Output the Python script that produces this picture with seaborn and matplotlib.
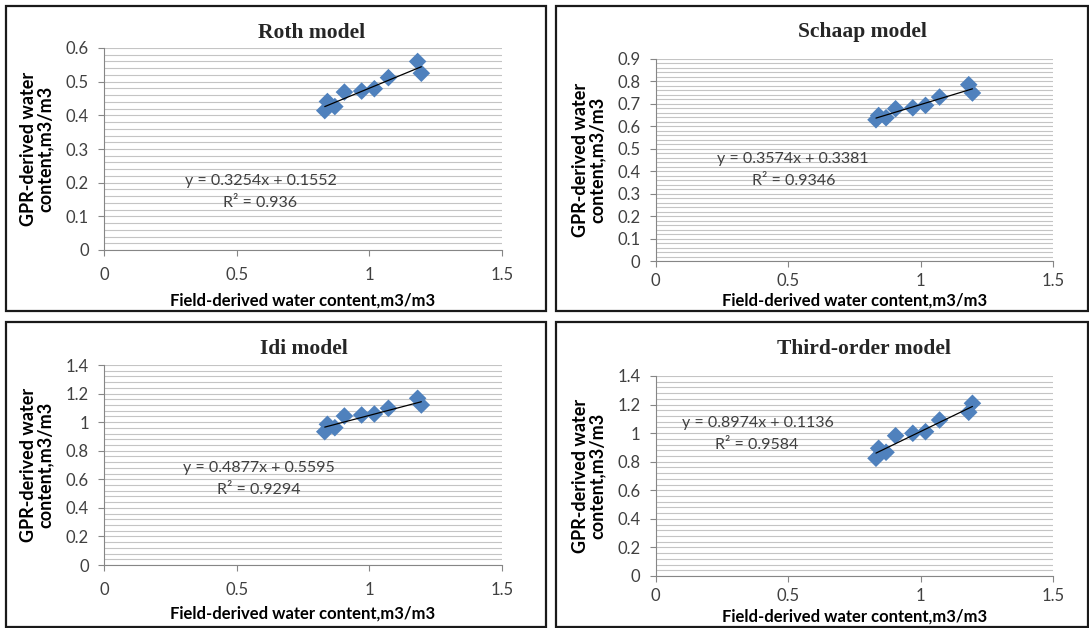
import numpy as np
import pandas as pd
import matplotlib
matplotlib.use("Agg")
import matplotlib.pyplot as plt
import seaborn as sns
from matplotlib.patches import Rectangle
from matplotlib.ticker import MultipleLocator, FuncFormatter

# ---------------- data ----------------
field_x = [0.832, 0.842, 0.870, 0.906, 0.971, 1.019, 1.072, 1.182, 1.196]
roth_y = [0.414, 0.441, 0.426, 0.469, 0.472, 0.479, 0.512, 0.560, 0.525]
schaap_y = [0.628, 0.647, 0.637, 0.677, 0.681, 0.692, 0.729, 0.784, 0.747]
idi_y = [0.933, 0.985, 0.961, 1.043, 1.050, 1.057, 1.097, 1.167, 1.120]
third_y = [0.824, 0.894, 0.866, 0.982, 0.999, 1.010, 1.092, 1.146, 1.209]

titles = ["Roth model", "Schaap model", "Idi model", "Third-order model"]
slopes = [0.3254, 0.3574, 0.4877, 0.8974]
intercepts = [0.1552, 0.3381, 0.5595, 0.1136]
r2_labels = ["0.936", "0.9346", "0.9294", "0.9584"]
y_max = [0.6, 0.9, 1.4, 1.4]
y_major = [0.1, 0.1, 0.2, 0.2]
y_minor = [0.02, 0.02, 0.04, 0.04]
x_ticks = [0, 0.5, 1, 1.5]
x_label = "Field-derived water content,m3/m3"
y_label = "GPR-derived water\ncontent,m3/m3"

series = [roth_y, schaap_y, idi_y, third_y]

# ---------------- style ----------------
sns.set_style("white")
plt.rcParams["font.family"] = ["Lato", "DejaVu Sans"]

W, H = 1089, 628
fig = plt.figure(figsize=(W / 100, H / 100), dpi=100)


def fx(x):
    return x / W


def fy(y):
    return 1 - y / H


# axes rectangles in pixel coords (left, top, right, bottom)
axes_px = [
    (104, 48, 502, 250),
    (655.5, 58.6, 1053, 261),
    (104, 365, 502, 565),
    (655.5, 376, 1053, 576),
]
title_px = [(312, 32.5), (862, 32.5), (304, 349), (864, 349)]
eq_px = [(261, 181), (793, 159), (259, 468), (758, 423)]
r2_px = [(260, 203), (794, 181), (259, 490), (757, 445)]
xlabel_off = [-0.208, -0.158, -0.205, -0.165]
xtick_pad = [8, 4.5, 8, 4.5]
borders_px = [(6, 6, 546, 311), (556, 6, 1088, 311), (6, 322, 546, 627), (556, 322, 1088, 627)]

for (l, t, r, b) in borders_px:
    fig.patches.append(Rectangle((fx(l), fy(b)), fx(r - l), (b - t) / H,
                                 transform=fig.transFigure, fill=False,
                                 edgecolor="#1a1a1a", linewidth=1.6, zorder=0))

fmt = FuncFormatter(lambda v, p: f"{v:.10g}")

for i in range(4):
    l, t, r, b = axes_px[i]
    ax = fig.add_axes([fx(l), fy(b), (r - l) / W, (b - t) / H])
    df = pd.DataFrame({"x": field_x, "y": series[i]})
    sns.scatterplot(data=df, x="x", y="y", marker="D", s=80, color="#4F81BD",
                    edgecolor="none", linewidth=0, ax=ax, zorder=3)
    xs = np.array([min(field_x), max(field_x)])
    sns.lineplot(x=xs, y=slopes[i] * xs + intercepts[i], color="black",
                 linewidth=0.9, ax=ax, zorder=4)

    ax.set_xlim(0, 1.5)
    ax.set_ylim(0, y_max[i])
    ax.set_xticks(x_ticks)
    ax.xaxis.set_major_formatter(fmt)
    ax.yaxis.set_major_locator(MultipleLocator(y_major[i]))
    ax.yaxis.set_minor_locator(MultipleLocator(y_minor[i]))
    ax.yaxis.set_major_formatter(fmt)
    ax.yaxis.grid(True, which="both", color="#c4c4c4", linewidth=0.8)
    ax.xaxis.grid(False)
    ax.set_axisbelow(True)
    for s in ["top", "right"]:
        ax.spines[s].set_visible(False)
    for s in ["left", "bottom"]:
        ax.spines[s].set_color("#868686")
        ax.spines[s].set_linewidth(0.8)
    ax.tick_params(axis="both", which="major", length=4, width=0.8,
                   color="#868686", direction="out", labelsize=12,
                   labelcolor="#404040")
    ax.tick_params(axis="y", which="major", pad=7, left=True)
    ax.tick_params(axis="x", which="major", pad=xtick_pad[i], bottom=True)
    ax.tick_params(axis="y", which="minor", length=0)

    ax.set_xlabel(x_label, fontsize=12, fontweight="bold", color="black")
    ax.set_ylabel(y_label, fontsize=13, fontweight="bold", color="black",
                  multialignment="center", linespacing=1.0)
    ax.xaxis.set_label_coords(0.5, xlabel_off[i])
    ax.yaxis.set_label_coords(-50 / (r - l), 0.5)

    fig.text(fx(title_px[i][0]), fy(title_px[i][1]), titles[i],
             family="Liberation Serif", fontweight="bold", fontsize=15.5,
             ha="center", va="center")
    fig.text(fx(eq_px[i][0]), fy(eq_px[i][1]),
             f"y = {slopes[i]}x + {intercepts[i]}", fontsize=11.5,
             color="#404040", ha="center", va="center")
    fig.text(fx(r2_px[i][0]), fy(r2_px[i][1]),
             f"R² = {r2_labels[i]}", fontsize=11.5,
             color="#404040", ha="center", va="center")

fig.savefig("out.png", dpi=100)
